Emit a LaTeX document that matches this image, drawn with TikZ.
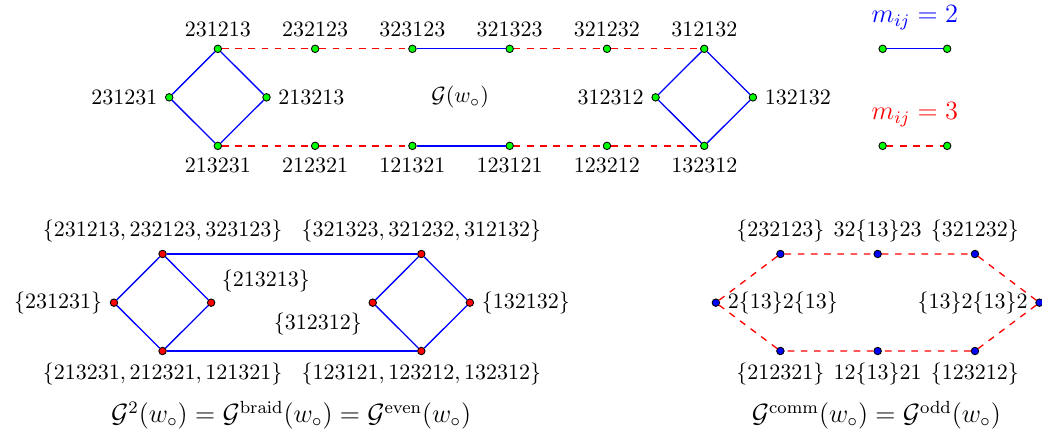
\documentclass[tikz,border=0pt]{standalone}
\usepackage{amsmath, amssymb}
\usepackage{xcolor}

\begin{document}
\begin{tikzpicture}[
    vtx/.style={circle, draw, inner sep=0pt, minimum size=3.4pt},
    braid/.style={blue, semithick},
    comm/.style={red, semithick, dashed}]
    \useasboundingbox (0,0) rectangle (16.645,-6.949);

    % G(w_o)
    \node[vtx, fill=green, label=left:{231231}] (d1) at (2.703,-1.555) {};
    \node[vtx, fill=green, label=right:{213213}] (d2) at (4.257,-1.555) {};
    \node[vtx, fill=green, label=left:{312312}] (d3) at (10.473,-1.555) {};
    \node[vtx, fill=green, label=right:{132132}] (d4) at (12.027,-1.555) {};
    \node[vtx, fill=green, label=above:{231213}] (a1) at (3.48,-0.78) {};
    \node[vtx, fill=green, label=above:{232123}] (a2) at (5.034,-0.78) {};
    \node[vtx, fill=green, label=above:{323123}] (a3) at (6.588,-0.78) {};
    \node[vtx, fill=green, label=above:{321323}] (a4) at (8.142,-0.78) {};
    \node[vtx, fill=green, label=above:{321232}] (a5) at (9.696,-0.78) {};
    \node[vtx, fill=green, label=above:{312132}] (a6) at (11.25,-0.78) {};
    \node[vtx, fill=green, label=below:{213231}] (b1) at (3.48,-2.33) {};
    \node[vtx, fill=green, label=below:{212321}] (b2) at (5.034,-2.33) {};
    \node[vtx, fill=green, label=below:{121321}] (b3) at (6.588,-2.33) {};
    \node[vtx, fill=green, label=below:{123121}] (b4) at (8.142,-2.33) {};
    \node[vtx, fill=green, label=below:{123212}] (b5) at (9.696,-2.33) {};
    \node[vtx, fill=green, label=below:{132312}] (b6) at (11.25,-2.33) {};
    \node (g) at (7.35,-1.555) {$\mathcal{G}(w_\circ)$};
    \draw[braid] (d1) -- (a1) -- (d2) -- (b1) -- (d1);
    \draw[braid] (d3) -- (a6) -- (d4) -- (b6) -- (d3);
    \draw[braid] (a3) -- (a4);
    \draw[braid] (b3) -- (b4);
    \draw[comm] (a1) -- (a2) -- (a3);
    \draw[comm] (a4) -- (a5) -- (a6);
    \draw[comm] (b1) -- (b2) -- (b3);
    \draw[comm] (b4) -- (b5) -- (b6);

    % legend
    \node[blue, font=\large] (m2) at (14.615,-0.29) {$m_{ij}=2$};
    \node[red, font=\large] (m3) at (14.615,-1.83) {$m_{ij}=3$};
    \node[vtx, fill=green] (l1) at (14.10,-0.78) {};
    \node[vtx, fill=green] (l2) at (15.13,-0.78) {};
    \node[vtx, fill=green] (l3) at (14.10,-2.33) {};
    \node[vtx, fill=green] (l4) at (15.13,-2.33) {};
    \draw[braid] (l1) -- (l2);
    \draw[comm] (l3) -- (l4);

    % G^2 = G^braid = G^even
    \node[vtx, fill=red, label=left:{$\{231231\}$}] (p1) at (1.821,-4.835) {};
    \node[vtx, fill=red, label=above:{$\{231213, 232123, 323123\}$}] (p2) at (2.597,-4.057) {};
    \node[vtx, fill=red, label=above right:{$\{213213\}$}] (p3) at (3.373,-4.835) {};
    \node[vtx, fill=red, label=below:{$\{213231, 212321, 121321\}$}] (p4) at (2.597,-5.607) {};
    \node[vtx, fill=red, label=above:{$\{321323, 321232, 312132\}$}] (q1) at (6.73,-4.057) {};
    \node[vtx, fill=red, label=below left:{$\{312312\}$}] (q2) at (5.954,-4.835) {};
    \node[vtx, fill=red, label=right:{$\{132132\}$}] (q3) at (7.506,-4.835) {};
    \node[vtx, fill=red, label=below:{$\{123121, 123212, 132312\}$}] (q4) at (6.73,-5.607) {};
    \draw[braid] (p1) -- (p2) -- (p3) -- (p4) -- (p1);
    \draw[braid] (q2) -- (q1) -- (q3) -- (q4) -- (q2);
    \draw[braid] (p2) -- (q1);
    \draw[braid] (p4) -- (q4);
    \node[font=\large] (cap1) at (4.65,-6.63)
      {$\mathcal{G}^2(w_\circ) = \mathcal{G}^{\mathrm{braid}}(w_\circ) = \mathcal{G}^{\mathrm{even}}(w_\circ)$};

    % G^comm = G^odd
    \node[vtx, fill=blue, label=right:{$2\{13\}2\{13\}$}] (h1) at (11.435,-4.835) {};
    \node[vtx, fill=blue, label=above:{$\{232123\}$}] (h2) at (12.466,-4.057) {};
    \node[vtx, fill=blue, label=above:{$32\{13\}23$}] (h3) at (14.02,-4.057) {};
    \node[vtx, fill=blue, label=above:{$\{321232\}$}] (h4) at (15.574,-4.057) {};
    \node[vtx, fill=blue, label=left:{$\{13\}2\{13\}2$}] (h5) at (16.605,-4.835) {};
    \node[vtx, fill=blue, label=below:{$\{212321\}$}] (h6) at (12.466,-5.607) {};
    \node[vtx, fill=blue, label=below:{$12\{13\}21$}] (h7) at (14.02,-5.607) {};
    \node[vtx, fill=blue, label=below:{$\{123212\}$}] (h8) at (15.574,-5.607) {};
    \draw[comm] (h1) -- (h2) -- (h3) -- (h4) -- (h5) -- (h8) -- (h7) -- (h6) -- (h1);
    \node[font=\large] (cap2) at (14.0,-6.63)
      {$\mathcal{G}^{\mathrm{comm}}(w_\circ) = \mathcal{G}^{\mathrm{odd}}(w_\circ)$};
  \end{tikzpicture}
\end{document}
